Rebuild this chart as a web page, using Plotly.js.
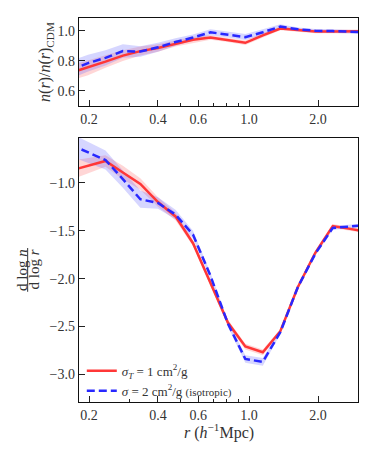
<!DOCTYPE html>
<html>
<head>
<meta charset="utf-8">
<script src="https://cdn.plot.ly/plotly-3.0.1.min.js"></script>
<style>
  body { margin: 0; background: #fff; }
  #grafica { width: 374px; height: 454px; }
</style>
</head>
<body>
<div id="grafica"></div>
<script>
// radios (h^-1 Mpc), bins log espaciados
const radios = [0.166, 0.198, 0.236, 0.281, 0.335, 0.400, 0.477, 0.569, 0.678, 0.808, 0.963, 1.148, 1.369, 1.632, 1.946, 2.32, 2.76, 3.3];

// panel de arriba: n(r)/n(r)_CDM
const cocienteRojo = [0.72, 0.755, 0.795, 0.835, 0.865, 0.885, 0.915, 0.94, 0.955, 0.94, 0.92, 0.97, 1.015, 1.005, 0.995, 0.995, 0.998, 0.998];
const errCocienteRojo = [0.05, 0.05, 0.04, 0.035, 0.03, 0.025, 0.02, 0.02, 0.015, 0.015, 0.015, 0.015, 0.012, 0.012, 0.012, 0.012, 0.012, 0.012];
const cocienteAzul = [0.74, 0.785, 0.82, 0.865, 0.862, 0.89, 0.925, 0.955, 0.99, 0.975, 0.958, 0.99, 1.028, 1.01, 1.0, 0.998, 0.993, 0.99];
const errCocienteAzul = [0.06, 0.055, 0.05, 0.045, 0.035, 0.03, 0.025, 0.02, 0.02, 0.02, 0.02, 0.02, 0.015, 0.012, 0.012, 0.012, 0.012, 0.012];

// panel de abajo: d log n / d log r
const pendienteRojo = [-0.87, -0.82, -0.77, -0.89, -1.01, -1.20, -1.35, -1.63, -2.05, -2.46, -2.71, -2.77, -2.55, -2.09, -1.73, -1.45, -1.48, -1.51];
const errPendienteRojo = [0.10, 0.08, 0.06, 0.07, 0.06, 0.05, 0.04, 0.03, 0.03, 0.03, 0.03, 0.03, 0.02, 0.02, 0.02, 0.02, 0.02, 0.02];
const pendienteAzul = [-0.60, -0.68, -0.76, -0.96, -1.17, -1.21, -1.33, -1.54, -1.97, -2.47, -2.84, -2.87, -2.56, -2.09, -1.74, -1.47, -1.46, -1.44];
const errPendienteAzul = [0.12, 0.11, 0.10, 0.09, 0.09, 0.06, 0.05, 0.04, 0.03, 0.03, 0.04, 0.04, 0.02, 0.02, 0.02, 0.02, 0.02, 0.02];

const ticksX = [0.2, 0.4, 0.6, 1.0, 2.0];
const textoTicksX = ["0.2", "0.4", "0.6", "1.0", "2.0"];
const minorX = [0.3, 0.5, 0.7, 0.8, 0.9];

const nombreRojo = "<i>σ<sub>T</sub></i> = 1 cm<sup>2</sup>/g";
const nombreAzul = "<i>σ</i> = 2 cm<sup>2</sup>/g <span style='font-size:11px'>(isotropic)</span>";

const rojo = "rgb(255,55,55)", azul = "rgb(40,40,255)";
const rojoBanda = "rgba(255,90,90,0.25)", azulBanda = "rgba(90,90,255,0.25)";

function banda(x, y, err, color, xa, ya) {
    let abajo = y.map((v, i) => v - err[i]);
    let arriba = y.map((v, i) => v + err[i]);
    return [
        { x: x, y: abajo, xaxis: xa, yaxis: ya, mode: "lines", line: { width: 0 }, showlegend: false, hoverinfo: "skip" },
        { x: x, y: arriba, xaxis: xa, yaxis: ya, mode: "lines", line: { width: 0 }, fill: "tonexty", fillcolor: color, showlegend: false, hoverinfo: "skip" }
    ];
}

function linea(x, y, color, dash, nombre, xa, ya, leyenda) {
    return { x: x, y: y, xaxis: xa, yaxis: ya, mode: "lines", name: nombre, showlegend: leyenda,
             line: { color: color, width: 2.5, dash: dash } };
}

let datos = [].concat(
    banda(radios, cocienteRojo, errCocienteRojo, rojoBanda, "x", "y"),
    banda(radios, cocienteAzul, errCocienteAzul, azulBanda, "x", "y"),
    banda(radios, pendienteRojo, errPendienteRojo, rojoBanda, "x2", "y2"),
    banda(radios, pendienteAzul, errPendienteAzul, azulBanda, "x2", "y2"),
    [
        linea(radios, cocienteRojo, rojo, "solid", nombreRojo, "x", "y", false),
        linea(radios, cocienteAzul, azul, "8px,4px", nombreAzul, "x", "y", false),
        linea(radios, pendienteRojo, rojo, "solid", nombreRojo, "x2", "y2", true),
        linea(radios, pendienteAzul, azul, "8px,4px", nombreAzul, "x2", "y2", true)
    ]
);

const familia = "Liberation Serif";
const fuente = { family: familia, size: 14, color: "#333" };
const fuenteTitulo = { family: familia, size: 16, color: "#333" };
const rangoX = [Math.log10(0.1808), Math.log10(2.99)];

function ejeX() {
    return {
        type: "log", range: rangoX, tickvals: ticksX, ticktext: textoTicksX,
        ticks: "inside", ticklen: 6, tickwidth: 1, tickcolor: "#222",
        minor: { tickvals: minorX, ticks: "inside", ticklen: 3, tickcolor: "#222" },
        showline: true, mirror: true, linecolor: "#111", linewidth: 1.3,
        showgrid: false, zeroline: false, tickfont: fuente
    };
}

let layout = {
    width: 374, height: 454,
    margin: { l: 79, r: 16, t: 18, b: 52 },
    paper_bgcolor: "#fff", plot_bgcolor: "#fff",
    font: fuente,
    showlegend: true,
    legend: {
        x: 0.01, y: 0.12, xanchor: "left", yanchor: "top", traceorder: "normal",
        bgcolor: "rgba(0,0,0,0)", itemwidth: 30, tracegroupgap: 0,
        font: { family: familia, size: 13, color: "#333" }
    },
    xaxis: Object.assign(ejeX(), { anchor: "y" }),
    yaxis: {
        domain: [0.7708, 1], range: [0.5, 1.085], tickvals: [0.6, 0.8, 1.0], ticktext: ["0.6", "0.8", "1.0"],
        ticks: "inside", ticklen: 6, tickcolor: "#222",
        showline: true, mirror: true, linecolor: "#111", linewidth: 1.3,
        showgrid: false, zeroline: false, tickfont: fuente,
        title: { text: "<i>n</i>(<i>r</i>)/<i>n</i>(<i>r</i>)<sub>CDM</sub>", font: fuenteTitulo, standoff: 2 }
    },
    xaxis2: Object.assign(ejeX(), { anchor: "y2" }),
    yaxis2: {
        domain: [0, 0.6875], range: [-3.29, -0.53],
        tickvals: [-3.0, -2.5, -2.0, -1.5, -1.0], ticktext: ["−3.0", "−2.5", "−2.0", "−1.5", "−1.0"],
        ticks: "inside", ticklen: 6, tickcolor: "#222",
        showline: true, mirror: true, linecolor: "#111", linewidth: 1.3,
        showgrid: false, zeroline: false, tickfont: fuente
    },
    annotations: [
        { text: "<i>r</i> (<i>h</i><sup>−1</sup>Mpc)", xref: "paper", yref: "paper", x: 0.5, y: -0.076,
          showarrow: false, xanchor: "center", yanchor: "middle", font: fuenteTitulo },
        { text: "d log <i>n</i>", xref: "paper", yref: "paper", x: -0.204, y: 0.344, textangle: -90,
          showarrow: false, xanchor: "center", yanchor: "middle", font: { family: familia, size: 15, color: "#333" } },
        { text: "d log <i>r</i>", xref: "paper", yref: "paper", x: -0.163, y: 0.344, textangle: -90,
          showarrow: false, xanchor: "center", yanchor: "middle", font: { family: familia, size: 15, color: "#333" } }
    ],
    shapes: [
        { type: "line", xref: "paper", yref: "paper", x0: -0.184, x1: -0.184, y0: 0.287, y1: 0.401,
          line: { color: "#333", width: 1 } }
    ]
};

Plotly.newPlot("grafica", datos, layout, { displayModeBar: false, staticPlot: true });
</script>
</body>
</html>
